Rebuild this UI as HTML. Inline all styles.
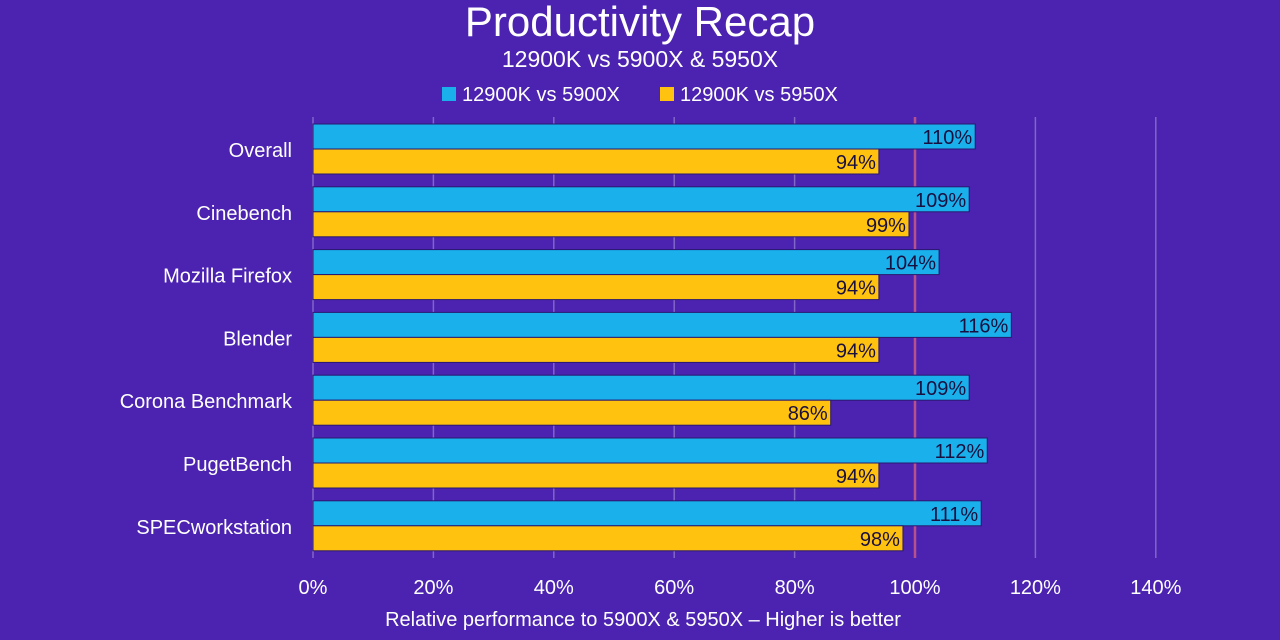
<!DOCTYPE html>
<html><head><meta charset="utf-8"><style>
body{margin:0;width:1280px;height:640px;overflow:hidden;background:#4b23b0;font-family:"Liberation Sans",sans-serif;}
svg{display:block}
</style></head><body>
<svg width="1280" height="640" id="chart">
<rect width="1280" height="640" fill="#4b23b0"/>
<text x="640" y="36" text-anchor="middle" font-size="42" fill="#fff">Productivity Recap</text>
<text x="640" y="67" text-anchor="middle" font-size="23" fill="#fff">12900K vs 5900X &amp; 5950X</text>
<rect x="442" y="87" width="14" height="14" fill="#1ab0ec"/>
<text x="462" y="101" font-size="20" fill="#fff">12900K vs 5900X</text>
<rect x="660" y="87" width="14" height="14" fill="#ffc20e"/>
<text x="680" y="101" font-size="20" fill="#fff">12900K vs 5950X</text>
<g id="grid"></g><g id="bars"></g><g id="labels"></g>
<text x="643" y="626" text-anchor="middle" font-size="20" fill="#fff">Relative performance to 5900X &amp; 5950X – Higher is better</text>
</svg>
<script>
const categories=["Overall","Cinebench","Mozilla Firefox","Blender","Corona Benchmark","PugetBench","SPECworkstation"];
const vs5900x=[110,109,104,116,109,112,111];
const vs5950x=[94,99,94,94,86,94,98];
const ticks=[0,20,40,60,80,100,120,140];
const NS="http://www.w3.org/2000/svg";
const x0=313,pxPer=6.02,top0=124,step=62.8,bh=25;
const xs=v=>x0+v*pxPer;
function mk(t,a,p){const e=document.createElementNS(NS,t);for(const k in a)e.setAttribute(k,a[k]);p.appendChild(e);return e;}
const grid=document.getElementById('grid'),bars=document.getElementById('bars'),labels=document.getElementById('labels');
ticks.forEach(t=>{
  const l=mk('line',{x1:xs(t),x2:xs(t),y1:117,y2:558,stroke:t===100?'#b8508c':'rgba(255,255,255,0.3)','stroke-width':t===100?2.5:1.5},grid);
  
  
  const tx=mk('text',{x:xs(t),y:594,'text-anchor':'middle','font-size':20,fill:'#fff'},labels);
  tx.textContent=t+'%';
  
  
});
categories.forEach((c,i)=>{
  const y=top0+i*step;
  const cl=mk('text',{x:292,y:y+bh+8,'text-anchor':'end','font-size':20,fill:'#fff'},labels);
  cl.textContent=c;
  
  
  [[vs5900x[i],'#1ab0ec',y,'bar-5900x'],[vs5950x[i],'#ffc20e',y+bh,'bar-5950x']].forEach(([v,col,yy,nm])=>{
    const r=mk('rect',{x:x0,y:yy,width:xs(v)-x0,height:bh,fill:col,stroke:'#2a1870','stroke-width':1},bars);
    
    
    const t=mk('text',{x:xs(v)-3,y:yy+20,'text-anchor':'end','font-size':20,fill:'#1a1040'},labels);
    t.textContent=v+'%';
    
    
  });
});
</script>
</body></html>
